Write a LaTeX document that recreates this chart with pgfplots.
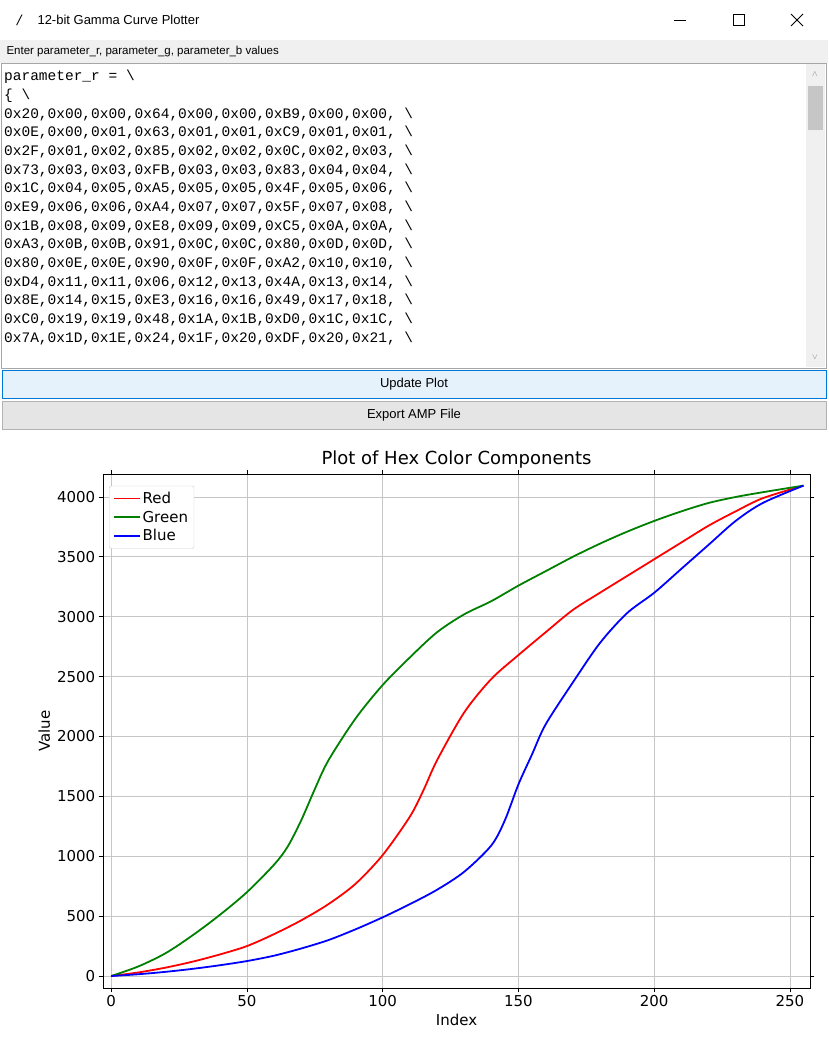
\documentclass[border=0pt]{standalone}
\usepackage{pgfplots}
\pgfplotsset{compat=1.18}
\usepackage{fontspec}
\setmainfont{DejaVu Sans}
\newfontfamily\gui{Liberation Sans}
\newfontfamily\mono{Liberation Mono}
\definecolor{mgreen}{RGB}{0,128,0}
\definecolor{btnblue}{RGB}{229,241,251}
\definecolor{btnborder}{RGB}{0,120,215}
\definecolor{lgray}{RGB}{240,240,240}
\begin{document}
\begin{tikzpicture}
\useasboundingbox (0pt,0pt) rectangle (828pt,-1056pt);
\fill[white] (0pt,0pt) rectangle (828pt,-1056pt);
\begin{scope}[x=1pt,y=1pt]
% title bar
\node[anchor=west,font=\gui\fontsize{13}{15}\selectfont] at (34,-20) {12-bit Gamma Curve Plotter};
\node[font=\fontsize{13}{15}\selectfont] at (20,-20) {\textit{/}};
\draw[line width=0.8] (674,-20) -- (686,-20);
\draw[line width=0.8] (733,-14) rectangle (744,-25);
\draw[line width=0.8] (791,-14) -- (803,-26) (791,-26) -- (803,-14);
% label row
\fill[lgray] (0,-40) rectangle (828,-63);
\node[anchor=west,font=\gui\fontsize{11.5}{13}\selectfont] at (3,-52) {Enter parameter\_r, parameter\_g, parameter\_b values};
% text area
\draw[gray!70] (1,-63) rectangle (826,-368);
\fill[lgray] (806,-64) rectangle (825,-367);
\fill[gray!45] (808,-86) rectangle (823,-130);
\node[font=\fontsize{8}{8}\selectfont,gray] at (815,-74) {$\wedge$};
\node[font=\fontsize{8}{8}\selectfont,gray] at (815,-357) {$\vee$};
\begin{scope}[every node/.style={anchor=base west,inner sep=0,font=\mono\fontsize{14.5}{16}\selectfont}]
\node at (4,-81) {parameter\_r = \textbackslash};
\node at (4,-99.7) {\{ \textbackslash};
\node at (4,-118.3) {0x20,0x00,0x00,0x64,0x00,0x00,0xB9,0x00,0x00, \textbackslash};
\node at (4,-137) {0x0E,0x00,0x01,0x63,0x01,0x01,0xC9,0x01,0x01, \textbackslash};
\node at (4,-155.7) {0x2F,0x01,0x02,0x85,0x02,0x02,0x0C,0x02,0x03, \textbackslash};
\node at (4,-174.3) {0x73,0x03,0x03,0xFB,0x03,0x03,0x83,0x04,0x04, \textbackslash};
\node at (4,-193) {0x1C,0x04,0x05,0xA5,0x05,0x05,0x4F,0x05,0x06, \textbackslash};
\node at (4,-211.7) {0xE9,0x06,0x06,0xA4,0x07,0x07,0x5F,0x07,0x08, \textbackslash};
\node at (4,-230.3) {0x1B,0x08,0x09,0xE8,0x09,0x09,0xC5,0x0A,0x0A, \textbackslash};
\node at (4,-249) {0xA3,0x0B,0x0B,0x91,0x0C,0x0C,0x80,0x0D,0x0D, \textbackslash};
\node at (4,-267.7) {0x80,0x0E,0x0E,0x90,0x0F,0x0F,0xA2,0x10,0x10, \textbackslash};
\node at (4,-286.3) {0xD4,0x11,0x11,0x06,0x12,0x13,0x4A,0x13,0x14, \textbackslash};
\node at (4,-305) {0x8E,0x14,0x15,0xE3,0x16,0x16,0x49,0x17,0x18, \textbackslash};
\node at (4,-323.7) {0xC0,0x19,0x19,0x48,0x1A,0x1B,0xD0,0x1C,0x1C, \textbackslash};
\node at (4,-342.3) {0x7A,0x1D,0x1E,0x24,0x1F,0x20,0xDF,0x20,0x21, \textbackslash};
\end{scope}
% buttons
\filldraw[fill=btnblue,draw=btnborder] (2,-370) rectangle (826,-398);
\node[font=\gui\fontsize{13}{15}\selectfont] at (414,-384) {Update Plot};
\filldraw[fill=gray!20,draw=gray!60] (2,-401) rectangle (826,-429);
\node[font=\gui\fontsize{13}{15}\selectfont] at (414,-415) {Export AMP File};
\end{scope}
% plot
\begin{axis}[at={(103pt,-988pt)},anchor=south west,scale only axis,
 width=707pt,height=514pt,
 xmin=-3,xmax=257.4,ymin=-100,ymax=4192,
 xtick={0,50,...,250},ytick={0,500,...,4000},
 tick align=outside,tick style={black,thick},
 grid=major,grid style={gray!45,line width=0.8pt},
 ticklabel style={font=\fontsize{15}{17}\selectfont},
 /pgf/number format/assume math mode=true,
 yticklabel style={/pgf/number format/1000 sep={}},
 title={Plot of Hex Color Components},
 title style={font=\fontsize{18}{20}\selectfont,yshift=-4pt},
 xlabel={Index},ylabel={Value},
 label style={font=\fontsize{15}{17}\selectfont},
 legend style={at={(0.0085,0.977)},anchor=north west,font=\fontsize{15}{19}\selectfont,draw=gray!40,rounded corners=2pt,row sep=2pt,inner sep=4pt},
 legend image post style={line width=1.8pt},
 legend image code/.code={\draw[#1] (0cm,0cm) -- (0.9cm,0cm);},
 legend cell align=left,
 every axis plot/.append style={line width=1.8pt,smooth}]
\addplot[red] coordinates {(0,0)(10,30)(20,70)(30,120)(40,180)(50,250)(60,350)(70,465)(80,600)(90,770)(100,1010)(110,1330)(115,1550)(120,1800)(130,2200)(140,2480)(150,2680)(160,2870)(170,3056)(180,3200)(190,3340)(200,3480)(210,3620)(220,3760)(230,3880)(240,3990)(255,4095)};
\addlegendentry{Red}
\addplot[mgreen] coordinates {(0,0)(10,80)(20,190)(30,340)(40,510)(50,700)(60,930)(65,1080)(70,1300)(75,1560)(80,1800)(90,2150)(100,2430)(110,2660)(120,2870)(130,3020)(140,3130)(150,3260)(160,3380)(170,3500)(180,3610)(190,3710)(200,3800)(210,3880)(220,3950)(230,4000)(240,4040)(255,4095)};
\addlegendentry{Green}
\addplot[blue] coordinates {(0,0)(10,15)(20,35)(30,60)(40,90)(50,125)(60,170)(70,230)(80,300)(90,390)(100,490)(110,600)(120,720)(130,870)(140,1090)(145,1300)(150,1600)(155,1850)(160,2100)(170,2450)(180,2780)(190,3030)(200,3200)(210,3400)(220,3600)(230,3800)(240,3950)(255,4095)};
\addlegendentry{Blue}
\end{axis}
\end{tikzpicture}
\end{document}
